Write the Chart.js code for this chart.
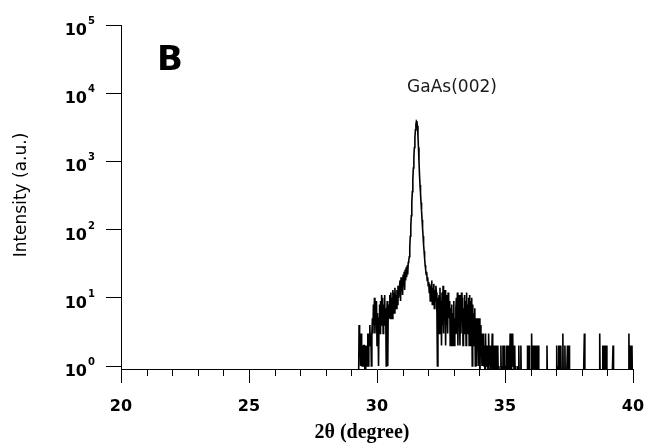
<!DOCTYPE html>
<html>
<head>
<meta charset="utf-8">
<script src="https://cdn.jsdelivr.net/npm/chart.js@4.4.0/dist/chart.umd.min.js"></script>
<style>
  html, body { margin: 0; padding: 0; background: #fff; }
  canvas { display: block; }
</style>
</head>
<body>
<canvas id="xrd" width="645" height="445"></canvas>
<script>
// step scan, 0.02 deg per point (counts)
var stepDeg = 0.02;
// zero counts have no place on a log axis: plot them below the frame (clipped)
var zeroFloor = 0.5;

// low angle shoulder 29.28 - 31.24
var lowSideStart = 29.28;
var lowSide = [
  0,4,2,3,1,3,2,
  1,2,1,2,2,1,0,2,1,2,1,
  3,1,3,2,4,2,3,1,3,
  5,3,8,4,10,3,7,5,9,2,6,4,
  1,5,8,3,
  9,4,11,6,10,3,8,5,11,4,7,
  1,6,9,1,8,5,
  6,11,5,12,7,10,5,13,8,12,6,14,9,11,7,13,8,15,10,12,
  12,18,9,20,14,17,11,22,15,24,13,26,18,28,20,30,22,33,35
];

// GaAs(002) peak 31.26 - 31.84
var peakStart = 31.26;
var peak = [
  40,55,80,110,160,250,360,550,800,1150,
  1600,2200,2900,3500,3900,3800,3300,2400,1600,1000,
  650,450,340,250,190,140,105,80,60,48
];

// high angle shoulder 31.86 - 34.76
var highSideStart = 31.86;
var highSide = [
  38,30,26,22,24,18,20,15,17,12,16,9,15,11,18,8,14,10,16,7,13,9,15,
  12,6,1,10,5,
  11,3,14,5,9,2,12,4,15,3,10,6,13,2,11,4,9,3,12,5,8,
  9,2,7,3,8,2,6,4,9,2,5,3,7,
  10,3,12,2,8,4,11,2,9,3,12,5,10,2,7,4,11,3,9,2,12,3,8,5,10,2,11,4,9,2,10,
  1,8,3,6,2,7,1,5,
  4,1,5,2,3,1,5,0,4,2,3,1,
  2,1,3,1,2,0,3,1,2,1,2,0,3,1,1,2,0,2,1,3,0,2,1,0,2,1,0,2,0,1,2,0,1
];

// background tail 34.78 - 40.00
var tailStart = 34.78;
var tail = [
  0,0,0,2,0,1,0,2,0,0,2,0,1,0,2,0,2,0,0,2,
  0,3,2,0,3,2,3,1,2,0,2,0,1,0,0,0,1,0,2,0,
  0,0,2,0,0,0,0,0,0,0,0,0,0,0,0,2,0,0,2,0,
  0,0,0,3,0,0,2,0,0,2,0,0,2,0,0,0,2,0,0,0,
  0,0,0,0,0,0,0,0,0,0,0,0,0,2,0,0,0,0,0,0,
  0,0,0,0,0,0,0,0,0,0,0,0,2,0,1,0,2,0,2,0,
  2,0,0,0,3,0,0,0,2,0,0,0,0,2,0,0,2,0,0,0,
  0,0,0,0,0,0,0,0,0,0,0,0,0,0,0,0,0,0,0,0,
  0,0,0,0,0,0,3,0,0,0,0,0,0,0,0,0,0,0,0,0,
  0,0,0,0,0,0,0,0,0,0,0,0,0,0,0,0,3,0,0,0,
  0,0,2,0,0,2,0,0,0,2,0,0,0,0,0,0,0,0,0,0,
  0,0,2,0,0,0,0,0,0,0,0,0,0,0,0,0,0,0,0,0,
  0,0,0,0,0,0,0,0,0,0,0,0,0,3,0,0,2,0,0,2,
  0,0
];

var xTicks = [20, 25, 30, 35, 40];
var xMinorTicks = [21,22,23,24,26,27,28,29,31,32,33,34,36,37,38,39];
var yTicks = [1, 10, 100, 1000, 10000, 100000];
var yExponents = ['0', '1', '2', '3', '4', '5'];

function addPoints(arr, start, counts) {
  for (var i = 0; i < counts.length; i++) {
    arr.push({ x: +(start + i * stepDeg).toFixed(2), y: counts[i] > 0 ? counts[i] : zeroFloor });
  }
}

var points = [];
addPoints(points, lowSideStart, lowSide);
addPoints(points, peakStart, peak);
addPoints(points, highSideStart, highSide);
addPoints(points, tailStart, tail);

var labelsPlugin = {
  id: 'xrdLabels',
  afterDraw: function(chart) {
    var c = chart.ctx;
    var xs = chart.scales.x, ys = chart.scales.y;
    var bottom = chart.chartArea.bottom;
    c.save();
    c.fillStyle = '#000';
    c.strokeStyle = '#000';
    c.lineWidth = 1;

    // minor ticks
    c.beginPath();
    xMinorTicks.forEach(function(d) {
      var px = Math.round(xs.getPixelForValue(d)) + 0.5;
      c.moveTo(px, bottom);
      c.lineTo(px, bottom + 7);
    });
    c.stroke();

    // 10^n labels
    yTicks.forEach(function(v, i) {
      var py = ys.getPixelForValue(v);
      c.font = 'bold 16px "DejaVu Sans"';
      c.textAlign = 'right';
      c.textBaseline = 'alphabetic';
      c.fillText('10', 87, py + 10);
      c.font = 'bold 10px "DejaVu Sans"';
      c.textAlign = 'left';
      c.fillText(yExponents[i], 88, py - 1);
    });

    // x title
    c.font = 'bold 20px "Liberation Serif"';
    c.textAlign = 'center';
    c.textBaseline = 'middle';
    c.fillText('2θ (degree)', 362, 433);

    // y title
    c.save();
    c.translate(22, 195);
    c.rotate(-Math.PI / 2);
    c.font = '17px "DejaVu Sans"';
    c.fillText('Intensity (a.u.)', 0, 0);
    c.restore();

    // panel letter and peak label
    c.font = 'bold 34px "DejaVu Sans"';
    c.textAlign = 'left';
    c.textBaseline = 'alphabetic';
    c.fillText('B', 157, 70);

    c.fillStyle = '#1a1a1a';
    c.font = '17px "DejaVu Sans"';
    c.textAlign = 'center';
    c.textBaseline = 'middle';
    c.fillText('GaAs(002)', 452, 88);
    c.restore();
  }
};

var ctx = document.getElementById('xrd').getContext('2d');
new Chart(ctx, {
  type: 'line',
  data: {
    datasets: [{
      data: points,
      borderColor: '#000',
      borderWidth: 1.6,
      pointRadius: 0,
      tension: 0,
      fill: false
    }]
  },
  options: {
    responsive: false,
    animation: false,
    devicePixelRatio: 1,
    layout: { padding: { top: 25, right: 12, left: 0, bottom: 0 } },
    plugins: { legend: { display: false }, tooltip: { enabled: false } },
    scales: {
      x: {
        type: 'linear',
        min: 20,
        max: 40,
        afterBuildTicks: function(s) { s.ticks = xTicks.map(function(v) { return { value: v }; }); },
        afterFit: function(s) { s.height = 76; s.paddingLeft = 0; s.paddingRight = 0; },
        grid: { drawOnChartArea: false, tickLength: 14, color: '#000' },
        border: { color: '#000', width: 1 },
        ticks: {
          color: '#000',
          padding: 14,
          maxRotation: 0,
          font: { family: 'DejaVu Sans', weight: 'bold', size: 16 }
        }
      },
      y: {
        type: 'logarithmic',
        min: 0.904,
        max: 100000,
        afterBuildTicks: function(s) { s.ticks = yTicks.map(function(v) { return { value: v }; }); },
        afterFit: function(s) { s.width = 121; s.paddingTop = 0; s.paddingBottom = 0; },
        grid: { drawOnChartArea: false, tickLength: 15, color: '#000' },
        border: { color: '#000', width: 1 },
        ticks: { display: false }
      }
    }
  },
  plugins: [labelsPlugin]
});
</script>
</body>
</html>
